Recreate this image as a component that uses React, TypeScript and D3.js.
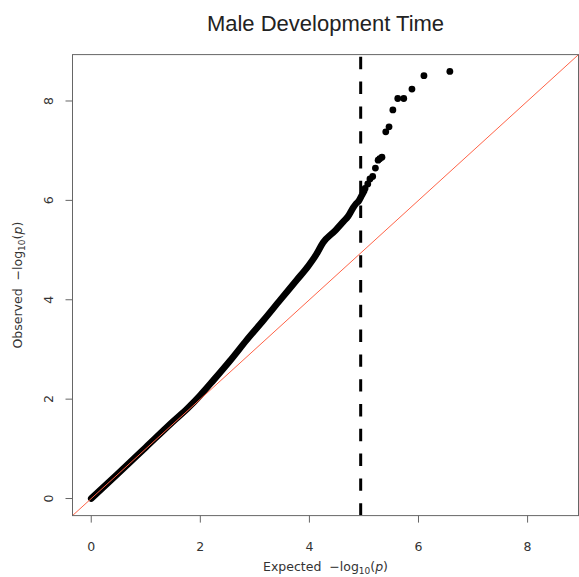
import React from "react";
import * as d3 from "d3";

// Dense part of the QQ curve (expected, observed)
const curveExpected = [0, 0.5, 1.0, 1.5, 1.78, 2.0, 2.24, 2.55, 2.85, 3.16, 3.46, 3.77, 3.98, 4.12, 4.25, 4.48, 4.62, 4.71, 4.8, 4.86, 4.9, 4.96, 5.0];
const curveObserved = [0, 0.51, 1.03, 1.55, 1.83, 2.08, 2.38, 2.78, 3.19, 3.59, 3.99, 4.4, 4.68, 4.9, 5.15, 5.4, 5.57, 5.68, 5.85, 5.94, 5.98, 6.1, 6.18];

// Sparse tail points
const tailExpected = [5.02, 5.07, 5.11, 5.16, 5.21, 5.26, 5.29, 5.33, 5.4, 5.46, 5.53, 5.62, 5.73, 5.88, 6.1, 6.575];
const tailObserved = [6.24, 6.33, 6.43, 6.48, 6.65, 6.81, 6.84, 6.87, 7.38, 7.48, 7.82, 8.05, 8.05, 8.24, 8.51, 8.595];

const xTicks = [0, 2, 4, 6, 8];
const yTicks = [0, 2, 4, 6, 8];
const thresholdX = 4.94;
const axisDomain: [number, number] = [-0.3436, 8.9336];

export default function App() {
  const W = 579, H = 577;
  const left = 72.5, right = 578.5, top = 54.6, bottom = 515.6;
  const x = d3.scaleLinear().domain(axisDomain).range([left, right]);
  const y = d3.scaleLinear().domain(axisDomain).range([bottom, top]);

  const curve = curveExpected.map((e, i) => [e, curveObserved[i]] as [number, number]);
  const line = d3.line<[number, number]>().x(d => x(d[0])).y(d => y(d[1])).curve(d3.curveMonotoneX);
  const tail = tailExpected.map((e, i) => [e, tailObserved[i]] as [number, number]);

  const axisFont = "'DejaVu Sans', Verdana, sans-serif";
  const cx = (left + right) / 2;
  const cy = (top + bottom) / 2;

  return (
    <svg width={W} height={H} style={{ position: "absolute", left: 0, top: 0 }}>
      <defs>
        <clipPath id="plotclip">
          <rect x={left} y={top} width={right - left} height={bottom - top} />
        </clipPath>
      </defs>
      <rect x={0} y={0} width={W} height={H} fill="white" />
      <text x={cx} y={31} textAnchor="middle" fontFamily="'Liberation Sans', Arial, sans-serif" fontSize={22} fill="#222">
        Male Development Time
      </text>
      <g clipPath="url(#plotclip)">
        <path d={line(curve) || ""} fill="none" stroke="black" strokeWidth={6.6} strokeLinecap="round" strokeLinejoin="round" />
        {tail.map((d, i) => (
          <circle key={i} cx={x(d[0])} cy={y(d[1])} r={3.4} fill="black" />
        ))}
        <line x1={x(axisDomain[0])} y1={y(axisDomain[0])} x2={x(axisDomain[1])} y2={y(axisDomain[1])} stroke="tomato" strokeWidth={1} />
        <line x1={x(thresholdX)} x2={x(thresholdX)} y1={bottom} y2={top} stroke="black" strokeWidth={3} strokeDasharray="12.4 12.4" />
      </g>
      <rect x={left} y={top} width={right - left} height={bottom - top} fill="none" stroke="#666" strokeWidth={1} />
      {xTicks.map(t => (
        <g key={"x" + t}>
          <line x1={x(t)} x2={x(t)} y1={bottom} y2={bottom + 7} stroke="#666" />
          <text x={x(t)} y={551} textAnchor="middle" fontFamily={axisFont} fontSize={12.5} fill="#333">{t}</text>
        </g>
      ))}
      {yTicks.map(t => (
        <g key={"y" + t}>
          <line x1={left} x2={left - 7} y1={y(t)} y2={y(t)} stroke="#666" />
          <g transform={`translate(52.5,${y(t)})`}>
            <text x={0} y={0} transform="rotate(-90)" textAnchor="middle" fontFamily={axisFont} fontSize={12.5} fill="#333">{t}</text>
          </g>
        </g>
      ))}
      <text x={cx} y={571} textAnchor="middle" fontFamily={axisFont} fontSize={12.5} fill="#333" style={{ whiteSpace: "pre" }}>
        {"Expected  \u2212log"}<tspan fontSize={9} dy={3}>10</tspan><tspan dy={-3}>(</tspan><tspan fontStyle="italic">p</tspan>)
      </text>
      <g transform={`translate(22,${cy})`}>
        <text transform="rotate(-90)" textAnchor="middle" fontFamily={axisFont} fontSize={12.5} fill="#333" style={{ whiteSpace: "pre" }}>
          {"Observed  \u2212log"}<tspan fontSize={9} dy={3}>10</tspan><tspan dy={-3}>(</tspan><tspan fontStyle="italic">p</tspan>)
        </text>
      </g>
    </svg>
  );
}
